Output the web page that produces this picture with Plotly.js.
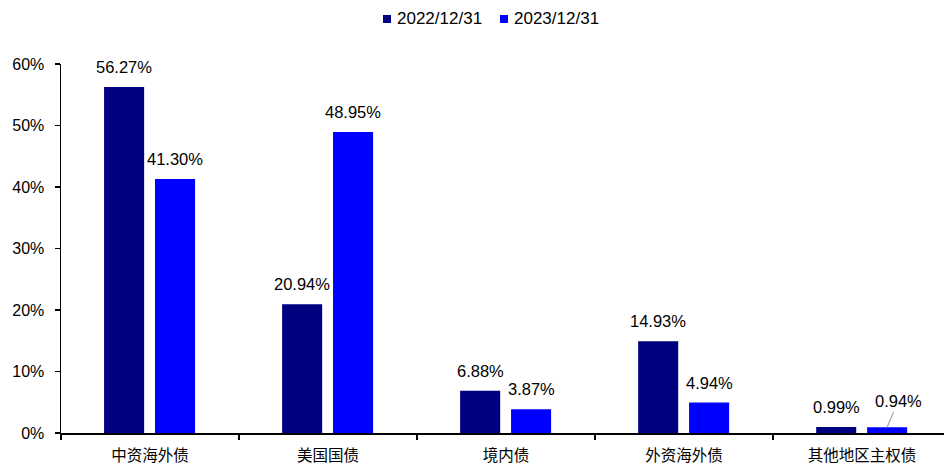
<!DOCTYPE html>
<html>
<head>
<meta charset="utf-8">
<script src="https://cdn.plot.ly/plotly-3.0.1.min.js"></script>
<style>
  html, body { margin: 0; padding: 0; background: #fff; }
  #chart { width: 944px; height: 464px; }
</style>
</head>
<body>
<div id="chart"></div>
<script>
// Holdings structure by bond type at two year-ends (% of total)
const categories = ["中资海外债", "美国国债", "境内债", "外资海外债", "其他地区主权债"];
const seriesNames = ["2022/12/31", "2023/12/31"];
const values2022 = [56.27, 20.94, 6.88, 14.93, 0.99];
const values2023 = [41.30, 48.95, 3.87, 4.94, 0.94];
const yTickVals = [0, 10, 20, 30, 40, 50, 60];
const yTickText = ["0%", "10%", "20%", "30%", "40%", "50%", "60%"];

const colors = ["#000080", "#0000FF"];
const W = 944, H = 464;
const M = { l: 61, r: 0, t: 64, b: 31 };
const labelFont = { family: "Liberation Sans, Arial, sans-serif", size: 16.5, color: "#000" };

// Two bars per category, each 0.225 category wide with a small gap between them
const barWidth = 0.225;
const barOffsets = [-0.258, 0.028];
const seriesValues = [values2022, values2023];

const traces = seriesValues.map((vals, s) => ({
  type: "bar",
  name: seriesNames[s],
  x: categories,
  y: vals,
  width: barWidth,
  offset: barOffsets[s],
  marker: { color: colors[s] },
  showlegend: false,
  hoverinfo: "skip"
}));

// Value labels above each bar; the tiny last bar gets a leader line
const annotations = [];
seriesValues.forEach((vals, s) => {
  vals.forEach((v, i) => {
    const ann = {
      x: i + barOffsets[s] + barWidth / 2,
      y: v,
      xref: "x", yref: "y",
      text: v.toFixed(2) + "%",
      font: labelFont,
      showarrow: false,
      yanchor: "middle",
      yshift: 20
    };
    if (s === 1 && i === vals.length - 1) {
      Object.assign(ann, {
        showarrow: true, arrowhead: 0, arrowwidth: 1.2, arrowcolor: "#a6a6a6",
        ax: 11, ay: -26, standoff: 0, yshift: 0, yanchor: "auto"
      });
    }
    annotations.push(ann);
  });
});

// Legend: small square swatch followed by the series name, centred above the plot
const plotW = W - M.l - M.r, plotH = H - M.t - M.b;
const toPaperX = px => (px - M.l) / plotW;
const toPaperY = py => (H - M.b - py) / plotH;
const legendItems = [{ left: 383 }, { left: 500 }];
const legendCenterY = 19, swatch = 8;
const shapes = [];
legendItems.forEach((item, s) => {
  shapes.push({
    type: "rect", xref: "paper", yref: "paper",
    x0: toPaperX(item.left), x1: toPaperX(item.left + swatch),
    y0: toPaperY(legendCenterY + swatch / 2), y1: toPaperY(legendCenterY - swatch / 2),
    fillcolor: colors[s], line: { width: 0 }
  });
  annotations.push({
    xref: "paper", yref: "paper",
    x: toPaperX(item.left + swatch + 4), y: toPaperY(legendCenterY),
    xanchor: "left", yanchor: "middle",
    text: seriesNames[s], font: Object.assign({}, labelFont, { size: 17 }),
    showarrow: false
  });
});

const layout = {
  width: W, height: H,
  margin: M,
  paper_bgcolor: "#fff", plot_bgcolor: "#fff",
  barmode: "overlay",
  showlegend: false,
  xaxis: {
    type: "category",
    range: [-0.5, 4.46],
    showline: true, linecolor: "#000", linewidth: 1.5,
    ticks: "outside", ticklen: 5, tickcolor: "#000", tickwidth: 1.5,
    tickson: "boundaries",
    showgrid: false, zeroline: false,
    tickfont: { family: "Noto Sans CJK SC, sans-serif", size: 15.5, color: "#000" },
    ticklabelstandoff: 8,
    fixedrange: true
  },
  yaxis: {
    range: [0, 60],
    tickvals: yTickVals, ticktext: yTickText,
    showline: true, linecolor: "#000", linewidth: 1.5,
    ticks: "outside", ticklen: 5, tickcolor: "#000", tickwidth: 1.5,
    showgrid: false, zeroline: false,
    tickfont: { family: "Liberation Sans, Arial, sans-serif", size: 16, color: "#000" },
    ticklabelstandoff: 7,
    fixedrange: true
  },
  shapes: shapes,
  annotations: annotations
};

Plotly.newPlot("chart", traces, layout, { displayModeBar: false, staticPlot: true });
</script>
</body>
</html>
